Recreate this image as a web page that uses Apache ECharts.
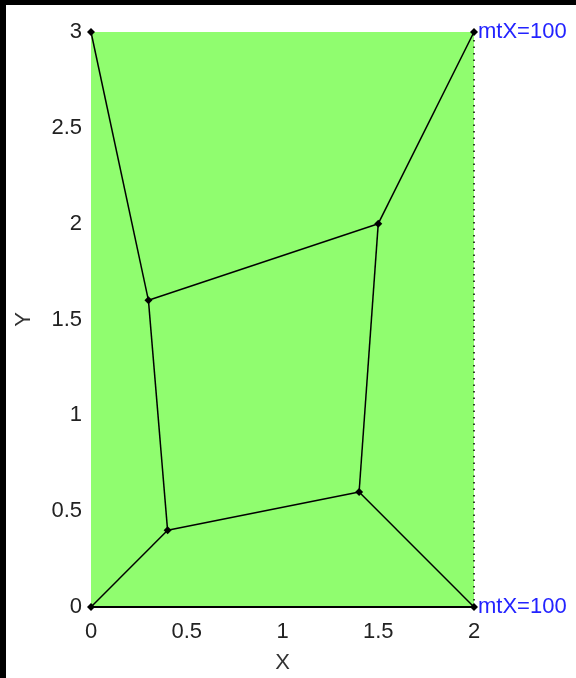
<!DOCTYPE html>
<html>
<head>
<meta charset="utf-8">
<script src="https://cdn.jsdelivr.net/npm/echarts@6/dist/echarts.min.js"></script>
<style>
  html, body { margin: 0; padding: 0; background: #000; }
  #chart { position: absolute; left: 6px; top: 5px; width: 570px; height: 673px; background: #fff; }
</style>
</head>
<body>
<div id="chart"></div>
<script>
// Node coordinates of the mesh
const nodeX = [0, 0.3, 0.4, 0, 1.5, 1.4, 2, 2];
const nodeY = [3, 1.6, 0.4, 0, 2, 0.6, 3, 0];
// Edges as [source, target] node indices
const edges = [[0, 1], [1, 2], [2, 3], [1, 4], [4, 6], [4, 5], [5, 2], [5, 7]];
// Dotted boundary on the right side
const boundaryX = [2, 2];
const boundaryY = [0, 3];
// Node annotations
const nodeLabels = ['', '', '', '', '', '', 'mtX=100', 'mtX=100'];

const xTicks = { min: 0, max: 2, interval: 0.5 };
const yTicks = { min: 0, max: 3, interval: 0.5 };

const font = 'Liberation Sans, Arial, sans-serif';
const chart = echarts.init(document.getElementById('chart'));

chart.setOption({
  animation: false,
  grid: {
    left: 85, top: 27, right: 102, bottom: 71,
    containLabel: false, outerBoundsMode: 'none',
    show: true, backgroundColor: '#90fd6f', borderWidth: 0
  },
  xAxis: {
    type: 'value', min: xTicks.min, max: xTicks.max, interval: xTicks.interval,
    name: 'X', nameLocation: 'middle', nameGap: 45,
    nameTextStyle: { fontFamily: font, fontSize: 22, color: '#333' },
    axisLine: { show: true, onZero: false, lineStyle: { color: '#000', width: 2 } },
    axisTick: { show: false },
    splitLine: { show: false },
    axisLabel: { fontFamily: font, fontSize: 22, color: '#222', margin: 14 }
  },
  yAxis: {
    type: 'value', min: yTicks.min, max: yTicks.max, interval: yTicks.interval,
    name: 'Y', nameLocation: 'middle', nameGap: 56, nameRotate: 90,
    nameTextStyle: { fontFamily: font, fontSize: 22, color: '#333' },
    axisLine: { show: false },
    axisTick: { show: false },
    splitLine: { show: false },
    axisLabel: { fontFamily: font, fontSize: 22, color: '#222', margin: 9 }
  },
  series: [
    {
      type: 'line',
      data: boundaryX.map((x, i) => [x, boundaryY[i]]),
      symbol: 'none',
      lineStyle: { color: '#000', width: 1.5, type: [1.5, 5] },
      z: 2
    },
    {
      type: 'graph',
      coordinateSystem: 'cartesian2d',
      symbol: 'diamond',
      symbolSize: 8,
      itemStyle: { color: '#000' },
      lineStyle: { color: '#000', width: 1.5, opacity: 1 },
      label: {
        show: true, position: 'right', distance: 0,
        fontFamily: font, fontSize: 22, color: '#2323ff',
        formatter: p => nodeLabels[p.dataIndex]
      },
      data: nodeX.map((x, i) => ({ value: [x, nodeY[i]] })),
      links: edges.map(e => ({ source: e[0], target: e[1] })),
      z: 3
    }
  ]
});
</script>
</body>
</html>
